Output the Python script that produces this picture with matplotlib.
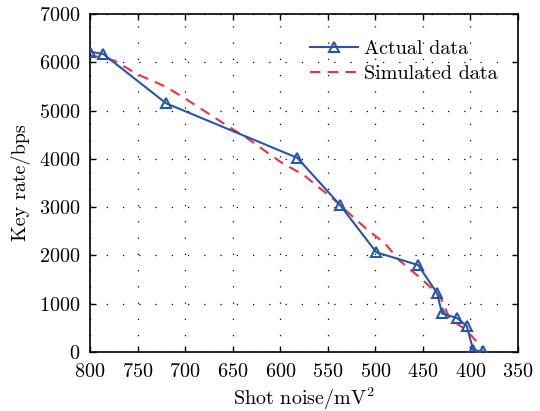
import numpy as np
import matplotlib
matplotlib.use('Agg')
import matplotlib.pyplot as plt

plt.rcParams['font.family'] = 'serif'
plt.rcParams['font.serif'] = ['cmr10', 'DejaVu Serif']
plt.rcParams['mathtext.fontset'] = 'cm'
plt.rcParams['axes.formatter.use_mathtext'] = True
plt.rcParams['font.size'] = 14.5

# actual measurements
actual_x = [800, 786, 720, 582, 537, 499, 455, 435, 430, 414, 404, 397, 387]
actual_y = [6220, 6170, 5150, 4020, 3040, 2065, 1800, 1215, 800, 700, 540, 35, 15]

# simulated curve
sim_x = [800, 775, 750, 720, 700, 660, 635, 600, 575, 545, 510, 490, 475, 450, 432, 422, 405, 395, 388]
sim_y = [6150, 6040, 5750, 5490, 5250, 4740, 4430, 3940, 3660, 3180, 2560, 2250, 1900, 1490, 1150, 700, 460, 250, 100]

xticks = [800, 750, 700, 650, 600, 550, 500, 450, 400, 350]
yticks = [0, 1000, 2000, 3000, 4000, 5000, 6000, 7000]

fig = plt.figure(figsize=(5.4, 4.11), dpi=100)
ax = fig.add_axes([0.1667, 0.1436, 0.7926, 0.8224])

blue = '#2756a8'
red = '#f0323a'

ax.plot(actual_x, actual_y, color=blue, lw=1.5, marker='^', ms=7.5,
        mfc='none', mec=blue, mew=1.5, label='Actual data', zorder=3)
ax.plot(sim_x, sim_y, color=red, lw=1.5, ls=(0, (5, 3.5)), label='Simulated data', zorder=2)

ax.set_xlim(800, 350)
ax.set_ylim(0, 7000)
ax.set_xticks(xticks)
ax.set_yticks(yticks)
ax.tick_params(direction='in', top=True, right=True, length=4, width=1)
ax.tick_params(axis='x', pad=8)
ax.tick_params(axis='y', pad=7)
ax.grid(True, color='k', ls=(0, (1, 12)), lw=0.9)
for s in ax.spines.values():
    s.set_linewidth(1.2)

ax.set_xlabel('Shot noise/mV$^2$', labelpad=3)
ax.set_ylabel('Key rate/bps', labelpad=6)

leg = ax.legend(loc='upper right', bbox_to_anchor=(0.985, 0.965), frameon=False,
                handlelength=2.4, handletextpad=0.3, labelspacing=0.35, borderaxespad=0.3)

fig.savefig('out.png', dpi=100)
